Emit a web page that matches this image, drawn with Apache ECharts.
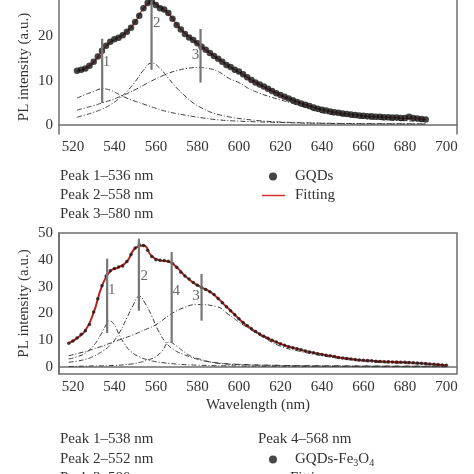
<!DOCTYPE html>
<html><head><meta charset="utf-8">
<script src="https://cdn.jsdelivr.net/npm/echarts@6/dist/echarts.min.js"></script>
<style>html,body{margin:0;padding:0;background:#fff}#c{width:474px;height:474px}</style>
</head><body><div id="c"></div>
<script>
const FONT = '"Liberation Serif", "DejaVu Serif", serif';
const xTicks = [520, 540, 560, 580, 600, 620, 640, 660, 680, 700];
const topYTicks = [0, 10, 20];
const botYTicks = [0, 10, 20, 30, 40, 50];

// ---- top panel: GQDs ----
const topWl = [522,524,526,528,530,532,534,536,538,540,542,544,546,548,550,552,554,556,558,560,562,564,566,568,570,572,574,576,578,580,582,584,586,588,590,592,594,596,598,600,602,604,606,608,610,612,614,616,618,620,622,624,626,628,630,632,634,636,638,640,642,644,646,648,650,652,654,656,658,660,662,664,666,668,670,672,674,676,678,680,682,684,686,688,690];
const topGQDs = [12.3,12.5,12.8,13.4,14.3,15.5,16.8,17.9,18.8,19.4,19.7,20.3,21.1,22.0,23.3,24.7,26.4,27.6,27.9,27.1,26.4,26.1,25.3,24.0,22.6,21.6,20.6,19.8,19.2,18.5,17.7,17.0,16.3,15.6,15.0,14.3,13.6,13.1,12.5,12.1,11.5,10.8,10.2,9.6,9.2,8.7,8.2,7.7,7.2,6.8,6.4,6.0,5.6,5.2,4.9,4.6,4.3,4.0,3.7,3.5,3.3,3.1,2.9,2.8,2.6,2.5,2.4,2.3,2.2,2.1,2.0,2.0,1.9,1.9,1.8,1.8,1.7,1.7,1.6,1.6,1.9,1.6,1.5,1.4,1.3];
const topFitWl = [522,526,530,534,538,542,546,550,554,558,562,566,570,574,578,582,586,590,594,598,602,606,610,614,618,622,626,630,634,638,642,646,650,654,658,662,666,670,674,678,682,686,690];
const topFit = [12.2,12.8,14.2,16.7,18.7,19.8,21.1,23.3,26.3,27.8,26.6,25.2,22.8,20.7,19.2,17.7,16.3,15.0,13.7,12.5,11.4,10.2,9.2,8.2,7.3,6.4,5.6,4.9,4.3,3.7,3.3,2.9,2.6,2.4,2.2,2.0,1.9,1.8,1.7,1.6,1.6,1.5,1.3];
const topPeak1 = [[522,6.1],[526,6.9],[530,7.6],[534,8.2],[538,7.9],[542,7.0],[546,6.1],[550,5.4],[555,4.6],[560,3.8],[565,3.1],[570,2.6],[575,2.2],[580,1.8],[590,1.2],[600,0.9],[620,0.6],[640,0.4],[660,0.3],[690,0.25]];
const topPeak2 = [[522,1.8],[526,2.3],[530,2.9],[534,3.6],[538,4.6],[542,5.9],[546,7.6],[550,9.8],[554,12.4],[558,14.0],[562,12.8],[566,10.6],[570,8.4],[574,6.6],[578,5.0],[582,3.9],[586,3.0],[590,2.4],[596,1.8],[600,1.5],[610,1.0],[620,0.7],[640,0.45],[660,0.35],[690,0.3]];
const topPeak3 = [[522,3.4],[526,3.9],[530,4.4],[534,5.0],[538,5.6],[542,6.3],[546,7.1],[550,8.0],[554,9.0],[558,10.0],[562,10.9],[566,11.7],[570,12.3],[575,12.8],[580,13.0],[585,12.8],[590,12.1],[595,10.6],[600,9.6],[605,8.2],[610,7.2],[615,6.4],[620,5.7],[625,5.0],[630,4.3],[640,2.8],[650,2.1],[660,1.5],[670,1.2],[680,1.0],[690,0.8]];
const topMarkers = [
  {name: '1', x: 534.1, from: 5.0, to: 19.5, lx: 536.2, ly: 14.2},
  {name: '2', x: 557.9, from: 12.5, to: 28.1, lx: 560.4, ly: 23.0},
  {name: '3', x: 581.5, from: 9.6, to: 21.7, lx: 579.1, ly: 15.9}
];

// ---- bottom panel: GQDs-Fe3O4 ----
const botWl = [518,520,522,524,526,528,530,532,534,536,538,540,542,544,546,548,550,552,554,556,558,560,562,564,566,568,570,572,574,576,578,580,582,584,586,588,590,592,594,596,598,600,602,604,606,608,610,612,614,616,618,620,622,624,626,628,630,632,634,636,638,640,642,644,646,648,650,652,654,656,658,660,662,664,666,668,670,672,674,676,678,680,682,684,686,688,690,692,694,696,698,700];
const botGQDsFe = [8.9,9.7,10.8,12.2,13.5,15.9,20.5,25.5,30.3,34.0,35.9,36.8,37.3,37.7,39.4,42.0,44.4,45.6,45.3,43.6,41.2,40.0,39.8,39.7,39.5,38.6,37.2,35.4,34.0,32.8,31.5,30.5,29.7,28.9,28.1,27.1,25.6,24.0,22.5,21.0,19.5,18.0,16.6,15.4,14.3,13.3,12.3,11.5,10.7,10.0,9.3,8.7,8.1,7.6,7.2,6.8,6.4,6.0,5.6,5.3,5.0,4.7,4.4,4.2,3.9,3.6,3.4,3.2,3.0,2.8,2.6,2.5,2.4,2.3,2.2,2.1,2.0,2.0,1.9,1.9,1.8,1.8,1.7,1.6,1.5,1.4,1.3,1.1,1.0,0.9,0.8,0.7];
const botFitWl = [518,522,526,530,534,538,542,546,550,554,558,562,566,570,574,578,582,586,590,594,598,602,606,610,614,618,622,626,630,634,638,642,646,650,654,658,662,666,670,674,678,682,686,690,694,698,700];
const botFit = [8.9,10.8,13.6,20.3,30.2,35.8,37.2,39.3,44.3,45.3,41.3,39.8,39.4,37.2,34.0,31.5,29.7,28.1,25.6,22.5,19.5,16.6,14.3,12.3,10.7,9.3,8.1,7.2,6.4,5.6,5.0,4.4,3.9,3.4,3.0,2.6,2.4,2.2,2.0,1.9,1.8,1.7,1.5,1.3,1.0,0.8,0.7];
const botPeak1 = [[518,3.0],[522,3.8],[526,5.2],[530,8.0],[533,11.5],[535.5,15.0],[537.5,17.2],[540,15.8],[542,12.5],[545,8.5],[548,5.8],[552,3.8],[556,2.7],[560,2.0],[570,1.1],[580,0.7],[600,0.4],[650,0.2],[700,0.1]];
const botPeak2 = [[518,1.8],[522,2.2],[526,2.9],[530,4.0],[534,5.8],[538,8.2],[542,12.3],[546,18.3],[549,23.0],[552,26.4],[555,23.5],[558,19.0],[561,13.8],[565,9.0],[569,6.3],[573,4.8],[578,3.4],[582,2.5],[590,1.5],[600,1.0],[620,0.6],[650,0.4],[700,0.3]];
const botPeak3 = [[518,4.2],[525,5.6],[533,7.5],[540,9.5],[549,12.0],[555,14.0],[560,15.8],[567,19.6],[573,22.0],[580,23.3],[589,22.6],[595,19.6],[600,16.8],[605,14.3],[612,11.0],[620,7.8],[628,6.1],[636,4.8],[644,3.7],[652,2.8],[660,2.1],[670,1.6],[680,1.3],[690,1.0],[700,0.5]];
const botPeak4 = [[518,0.2],[530,0.4],[540,0.6],[548,1.1],[552,1.7],[556,2.6],[560,3.9],[563,6.0],[566.5,9.3],[570,7.8],[573,6.0],[577,4.0],[581,3.0],[585,2.1],[590,1.4],[600,0.9],[620,0.6],[650,0.4],[700,0.3]];
const botMarkers = [
  {name: '1', x: 536.5, from: 12.7, to: 40.4, lx: 538.7, ly: 28.6},
  {name: '2', x: 551.8, from: 21.0, to: 47.9, lx: 554.4, ly: 33.8},
  {name: '4', x: 567.6, from: 9.0, to: 42.9, lx: 569.8, ly: 28.2},
  {name: '3', x: 582.0, from: 17.3, to: 34.7, lx: 579.3, ly: 26.4}
];

const topPeakNotes = ['Peak 1\u2013536 nm', 'Peak 2\u2013558 nm', 'Peak 3\u2013580 nm'];
const botPeakNotes = ['Peak 1\u2013538 nm', 'Peak 2\u2013552 nm', 'Peak 3\u2013580 nm', 'Peak 4\u2013568 nm'];

const zip = (xs, ys) => xs.map((x, i) => [x, ys[i]]);
const TEXT = '#333';
const AXIS = '#6e6e6e';
const TOP_RED = '#d8302a';
const BOT_RED = '#b8231d';

function xAxisCfg(gridIndex, name) {
  return {
    type: 'value', gridIndex, min: 513.3, max: 705.1,
    name: name || '', nameLocation: 'middle', nameGap: 24, nameMoveOverlap: false,
    nameTextStyle: {fontFamily: FONT, fontSize: 15, color: TEXT},
    axisLine: {show: true, lineStyle: {color: AXIS, width: 1.5}},
    axisTick: {show: false},
    splitLine: {show: false},
    axisLabel: {customValues: xTicks, fontFamily: FONT, fontSize: 15, color: TEXT, margin: 6}
  };
}
function yAxisCfg(gridIndex, min, max, ticks) {
  return {
    type: 'value', gridIndex, min, max,
    name: 'PL intensity (a.u.)', nameLocation: 'middle', nameGap: 27, nameMoveOverlap: false,
    nameTextStyle: {fontFamily: FONT, fontSize: 15, color: TEXT},
    axisLine: {show: true, lineStyle: {color: AXIS, width: 1.5}},
    axisTick: {show: false},
    splitLine: {show: false},
    axisLabel: {customValues: ticks, fontFamily: FONT, fontSize: 15, color: TEXT, margin: 6}
  };
}
function compSeries(data, xi) {
  return {type: 'line', xAxisIndex: xi, yAxisIndex: xi, data, smooth: true, symbol: 'none', silent: true,
    lineStyle: {color: '#3a3a3a', width: 1, type: [5, 2, 1, 2]}, z: 2};
}
function markerSeries(markers, xi) {
  const out = [];
  markers.forEach(m => {
    out.push({type: 'line', xAxisIndex: xi, yAxisIndex: xi, data: [[m.x, m.from], [m.x, m.to]], symbol: 'none', silent: true,
      lineStyle: {color: '#767676', width: 2.2}, z: 5});
  });
  out.push({type: 'scatter', xAxisIndex: xi, yAxisIndex: xi, symbolSize: 1, silent: true,
    itemStyle: {color: 'rgba(0,0,0,0)'},
    data: markers.map(m => ({name: m.name, value: [m.lx, m.ly]})),
    label: {show: true, position: 'inside', formatter: p => p.name, fontFamily: FONT, fontSize: 15, color: '#444'}, z: 6});
  return out;
}

const series = [
  compSeries(topPeak1, 0), compSeries(topPeak2, 0), compSeries(topPeak3, 0),
  {name: 'Fitting', type: 'line', xAxisIndex: 0, yAxisIndex: 0, data: zip(topFitWl, topFit), smooth: true, symbol: 'none',
    lineStyle: {color: TOP_RED, width: 1.3}, itemStyle: {color: TOP_RED}, z: 3},
  {name: 'GQDs', type: 'scatter', xAxisIndex: 0, yAxisIndex: 0, data: zip(topWl, topGQDs), symbolSize: 6.5,
    itemStyle: {color: '#141414'}, z: 4},
  ...markerSeries(topMarkers, 0),
  compSeries(botPeak1, 1), compSeries(botPeak2, 1), compSeries(botPeak3, 1), compSeries(botPeak4, 1),
  {name: 'Fitting', type: 'line', xAxisIndex: 1, yAxisIndex: 1, data: zip(botFitWl, botFit), smooth: true, symbol: 'none',
    lineStyle: {color: BOT_RED, width: 2}, itemStyle: {color: BOT_RED}, z: 3},
  {name: 'GQDs-Fe3O4', type: 'scatter', xAxisIndex: 1, yAxisIndex: 1, data: zip(botWl, botGQDsFe), symbolSize: 3.5,
    itemStyle: {color: '#1a1a1a'}, z: 4},
  ...markerSeries(botMarkers, 1)
];

const legendText = {fontFamily: FONT, fontSize: 15, color: TEXT};
const yRight = {type: 'value', gridIndex: 0, position: 'right', min: -2, max: 28.25,
  axisLine: {show: true, lineStyle: {color: AXIS, width: 1.5}}, axisTick: {show: false}, axisLabel: {show: false}, splitLine: {show: false}};
const option = {
  animation: false,
  backgroundColor: '#fff',
  grid: [
    {left: 59, top: 0, width: 398, height: 134, show: false},
    {left: 59, top: 233, width: 398, height: 141, show: true, borderColor: AXIS, borderWidth: 1.5}
  ],
  xAxis: [xAxisCfg(0), xAxisCfg(1, 'Wavelength (nm)')],
  yAxis: [yAxisCfg(0, -2, 28.25, topYTicks), yAxisCfg(1, -2.6, 50, botYTicks), yRight],
  legend: [
    {data: ['GQDs'], left: 264, top: 164, icon: 'circle', itemWidth: 8, itemHeight: 8, selectedMode: false,
      textStyle: Object.assign({padding: [0, 0, 0, 13]}, legendText)},
    {data: [{name: 'Fitting', icon: 'rect', itemStyle: {color: TOP_RED}}], left: 257, top: 183, itemWidth: 23, itemHeight: 1.5, selectedMode: false,
      textStyle: Object.assign({padding: [0, 0, 0, 5]}, legendText)},
    {data: ['GQDs-Fe3O4'], left: 264, top: 447, icon: 'circle', itemWidth: 8, itemHeight: 8, selectedMode: false,
      formatter: n => 'GQDs-Fe{s|3}O{s|4}',
      textStyle: Object.assign({padding: [0, 0, 0, 13], rich: {s: {fontFamily: FONT, fontSize: 10, color: TEXT, padding: [7, 0, 0, 0]}}}, legendText)}
  ],
  graphic: [
    ...topPeakNotes.map((t, i) => ({type: 'text', left: 60, top: 169 + i * 19, style: {text: t, font: '15px ' + FONT, fill: TEXT}})),
    {type: 'text', left: 60, top: 432, style: {text: botPeakNotes[0], font: '15px ' + FONT, fill: TEXT}},
    {type: 'text', left: 60, top: 452, style: {text: botPeakNotes[1], font: '15px ' + FONT, fill: TEXT}},
    {type: 'text', left: 60, top: 471, style: {text: botPeakNotes[2], font: '15px ' + FONT, fill: TEXT}},
    {type: 'text', left: 258, top: 432, style: {text: botPeakNotes[3], font: '15px ' + FONT, fill: TEXT}},
    {type: 'line', shape: {x1: 257, y1: 479, x2: 280, y2: 479}, style: {stroke: BOT_RED, lineWidth: 1.5}},
    {type: 'text', left: 290, top: 471, style: {text: 'Fitting', font: '15px ' + FONT, fill: TEXT}}
  ],
  series
};
const chart = echarts.init(document.getElementById('c'), null, {renderer: 'canvas'});
chart.setOption(option);
</script></body></html>
